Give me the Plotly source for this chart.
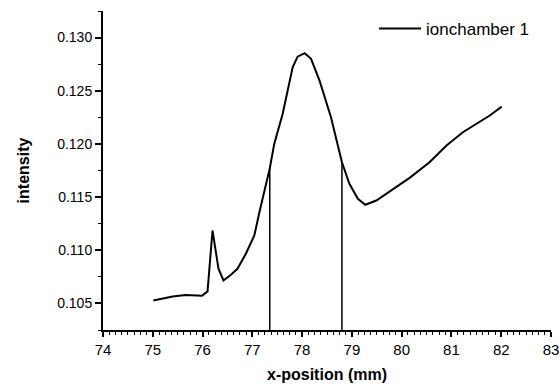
import plotly.graph_objects as go

# Curve data (x-position in mm, intensity)
x_pos = [75.01, 75.40, 75.66, 75.99, 76.10, 76.20, 76.32, 76.42, 76.57, 76.70,
         76.87, 77.04, 77.15, 77.35, 77.44, 77.61, 77.81, 77.91, 78.05, 78.18,
         78.35, 78.58, 78.80, 78.95, 79.12, 79.27, 79.49, 79.76, 80.16, 80.56,
         80.90, 81.23, 81.60, 81.77, 82.01]
intensity = [0.10528, 0.10566, 0.10578, 0.10572, 0.10613, 0.11186, 0.10826, 0.10716, 0.10770, 0.10826,
             0.10967, 0.11139, 0.11374, 0.11770, 0.12000, 0.12283, 0.12721, 0.12821, 0.12853, 0.12800,
             0.12596, 0.12251, 0.11828, 0.11625, 0.11484, 0.11428, 0.11468, 0.11555, 0.11681, 0.11828,
             0.11985, 0.12110, 0.12220, 0.12267, 0.12351]

# Vertical marker lines (from axis bottom up to curve)
marker_x = [77.35, 78.80]
marker_top = [0.11770, 0.11828]
y_bottom = 0.1025

x_ticks = [74, 75, 76, 77, 78, 79, 80, 81, 82, 83]
y_ticks = [0.105, 0.110, 0.115, 0.120, 0.125, 0.130]

font_family = "Liberation Sans, Arial, sans-serif"

fig = go.Figure()
fig.add_trace(go.Scatter(x=x_pos, y=intensity, mode="lines", name="ionchamber 1",
                         line=dict(color="black", width=2)))
vx, vy = [], []
for mx, mt in zip(marker_x, marker_top):
    vx += [mx, mx, None]
    vy += [y_bottom, mt, None]
fig.add_trace(go.Scatter(x=vx, y=vy, mode="lines", showlegend=False,
                         line=dict(color="black", width=1.5)))

fig.update_layout(
    width=560, height=387,
    margin=dict(l=103, r=9, t=11, b=57, autoexpand=False),
    paper_bgcolor="white", plot_bgcolor="white",
    font=dict(family=font_family, color="black", size=14),
    showlegend=True,
    legend=dict(x=0.605, y=1.0, xanchor="left", yanchor="top",
                bgcolor="rgba(0,0,0,0)", font=dict(size=17, family=font_family),
                itemwidth=42),
    xaxis=dict(range=[74, 83], tickvals=x_ticks, ticktext=[str(t) for t in x_ticks],
               automargin=False,
               showline=True, linecolor="black", linewidth=2, showgrid=False, zeroline=False,
               ticks="outside", ticklen=5, tickwidth=1.5, tickcolor="black",
               minor=dict(dtick=0.125, ticks="outside", ticklen=3, tickwidth=1, tickcolor="black"),
               tickfont=dict(size=15),
               title=dict(text="<b>x-position (mm)</b>", font=dict(size=16), standoff=12)),
    yaxis=dict(range=[0.1025, 0.1325], tickvals=y_ticks, ticktext=[f"{t:.3f}" for t in y_ticks],
               automargin=False,
               showline=True, linecolor="black", linewidth=2, showgrid=False, zeroline=False,
               ticks="outside", ticklen=6, tickwidth=1.5, tickcolor="black",
               minor=dict(dtick=0.0025, ticks="outside", ticklen=3, tickwidth=1, tickcolor="black"),
               tickfont=dict(size=14),
               title=dict(text="<b>intensity</b>", font=dict(size=16), standoff=24)),
)

fig.write_html("out.html")
